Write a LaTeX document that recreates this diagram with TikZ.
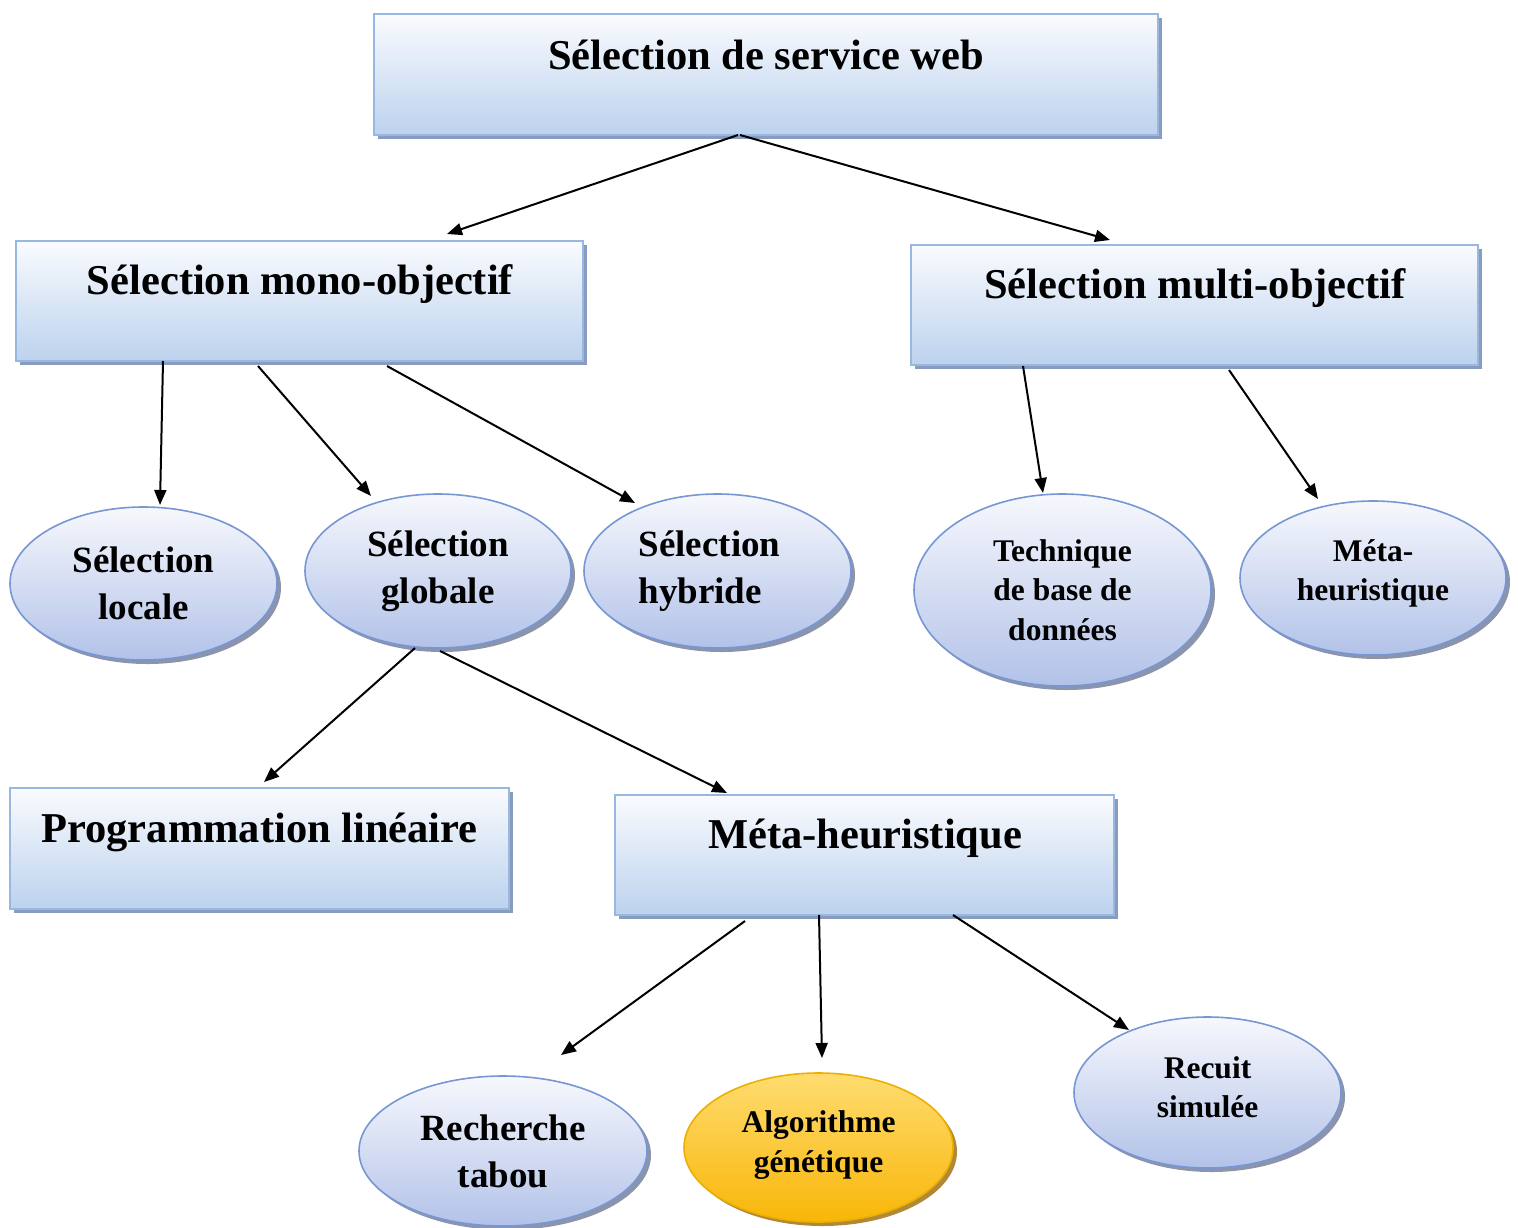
\documentclass[tikz,border=0pt]{standalone}
\usepackage{fontspec}
\setmainfont{Liberation Serif}
\usetikzlibrary{arrows.meta,shadows,shapes.geometric}

\definecolor{boxtop}{RGB}{250,251,254}
\definecolor{boxbot}{RGB}{188,210,238}
\definecolor{boxline}{RGB}{152,184,226}
\definecolor{boxshadow}{RGB}{138,156,190}
\definecolor{elltop}{RGB}{247,248,253}
\definecolor{ellbot}{RGB}{178,194,232}
\definecolor{ellline}{RGB}{118,150,212}
\definecolor{ellshadow}{RGB}{140,148,172}
\definecolor{goldtop}{RGB}{255,220,112}
\definecolor{goldmid}{RGB}{255,192,0}
\definecolor{goldbot}{RGB}{248,182,8}
\definecolor{goldline}{RGB}{236,176,0}
\definecolor{goldshadow}{RGB}{176,136,56}

\begin{document}
\begin{tikzpicture}[x=1pt,y=-1pt,
  boxnode/.style={draw=boxline, line width=1.6pt, rectangle, inner sep=0pt, outer sep=0pt,
    top color=boxtop, bottom color=boxbot,
    drop shadow={shadow xshift=4pt, shadow yshift=-4pt, fill=boxshadow, opacity=1}},
  boxtext/.style={anchor=base, inner sep=0pt, font=\bfseries\fontsize{42.5pt}{50pt}\selectfont},
  ellnode/.style={draw=ellline, line width=1.6pt, ellipse, inner sep=0pt, outer sep=0pt, align=center,
    top color=elltop, bottom color=ellbot,
    drop shadow={shadow xshift=4pt, shadow yshift=-4pt, fill=ellshadow, opacity=1}},
  goldnode/.style={draw=goldline, line width=1.6pt, ellipse, inner sep=0pt, outer sep=0pt, align=center,
    top color=goldtop, middle color=goldmid, bottom color=goldbot,
    drop shadow={shadow xshift=4pt, shadow yshift=-4pt, fill=goldshadow, opacity=1}},
  bigell/.style={font=\bfseries\fontsize{37pt}{47pt}\selectfont},
  smallell/.style={font=\bfseries\fontsize{31.5pt}{39.5pt}\selectfont},
  elltext/.style={smallell, align=center, inner sep=0pt},
  link/.style={line width=2pt, -{Triangle[length=15pt,width=12pt]}}
]
\useasboundingbox (0,0) rectangle (1518,1227);

% rectangular category boxes
\node[boxnode, minimum width=784pt, minimum height=121pt] (top) at (766,74.5) {};
\node[boxtext] (toptxt) at (766,69) {Sélection de service web};

\node[boxnode, minimum width=567pt, minimum height=120pt] (mono) at (299.5,301) {};
\node[boxtext] (monotxt) at (300,294) {Sélection mono-objectif};

\node[boxnode, minimum width=567pt, minimum height=120pt] (multi) at (1194.5,305) {};
\node[boxtext] (multitxt) at (1195,298) {Sélection multi-objectif};

\node[boxnode, minimum width=499pt, minimum height=121pt] (prog) at (259.5,848.5) {};
\node[boxtext] (progtxt) at (259.5,842) {Programmation linéaire};

\node[boxnode, minimum width=499pt, minimum height=120pt] (meta) at (864.5,855) {};
\node[boxtext] (metatxt) at (865,848) {Méta-heuristique};

% elliptical leaves
\node[ellnode, bigell, minimum width=267pt, minimum height=153pt] (loc) at (143.5,583.5) {Sélection\\locale};
\node[ellnode, bigell, minimum width=266pt, minimum height=154pt] (glob) at (438,571) {Sélection\\globale};
\node[ellnode, bigell, minimum width=267pt, minimum height=154pt, align=left] (hyb) at (717.5,571) {Sélection\hspace*{16pt}\\hybride};
\node[ellnode, smallell, minimum width=297pt, minimum height=192pt] (tech) at (1062.5,590) {Technique\\de base de\\données};

\node[ellnode, minimum width=266pt, minimum height=154pt] (mh) at (1373,578) {};
\node[elltext] (mhtxt) at (1373,573.5) {Méta-\\heuristique};

\node[ellnode, bigell, minimum width=288pt, minimum height=150pt] (tabou) at (503,1151) {Recherche\\tabou};

\node[goldnode, minimum width=269pt, minimum height=149pt] (algo) at (818.5,1147.5) {};
\node[elltext] (algotxt) at (818.5,1145) {Algorithme\\génétique};

\node[ellnode, minimum width=267pt, minimum height=151pt] (recuit) at (1207.5,1092.5) {};
\node[elltext] (recuittxt) at (1207.5,1087) {Recuit\\simulée};

% connectors
\draw[link] ([xshift=-28pt]top.south) -- ([xshift=147.5pt,yshift=7pt]mono.north);
\draw[link] ([xshift=-26pt]top.south) -- ([xshift=-84.5pt,yshift=5pt]multi.north);

\draw[link] ([xshift=-136.5pt]mono.south) -- ([xshift=16.5pt,yshift=2pt]loc.north);
\draw[link] ([xshift=-41.5pt,yshift=-5pt]mono.south) -- ([xshift=-67pt,yshift=-2pt]glob.north);
\draw[link] ([xshift=87.5pt,yshift=-5pt]mono.south) -- ([xshift=-82.5pt,yshift=-9pt]hyb.north);

\draw[link] ([xshift=-171.5pt,yshift=-1pt]multi.south) -- ([xshift=-19.5pt,yshift=1pt]tech.north);
\draw[link] ([xshift=34.5pt,yshift=-5pt]multi.south) -- ([xshift=-55pt,yshift=2pt]mh.north);

\draw[link] ([xshift=-23pt]glob.south) -- ([xshift=4.5pt,yshift=6pt]prog.north);
\draw[link] ([xshift=2pt,yshift=-3pt]glob.south) -- ([xshift=-137.5pt,yshift=2pt]meta.north);

\draw[link] ([xshift=-119.5pt,yshift=-6pt]meta.south) -- ([xshift=58pt,yshift=21pt]tabou.north);
\draw[link] ([xshift=-45.5pt]meta.south) -- ([xshift=3.5pt,yshift=15pt]algo.north);
\draw[link] ([xshift=88.5pt]meta.south) -- ([xshift=-78.5pt,yshift=-13pt]recuit.north);
\end{tikzpicture}
\end{document}
